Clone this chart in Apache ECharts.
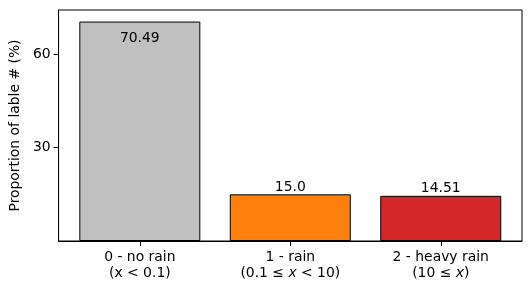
<!DOCTYPE html>
<html><head><meta charset="utf-8">
<script src="https://cdn.jsdelivr.net/npm/echarts@6/dist/echarts.min.js"></script>
<style>html,body{margin:0;padding:0;background:#fff}#c{width:531px;height:293px}</style>
</head><body><div id="c"></div>
<script>
const categories = ['0 - no rain', '1 - rain', '2 - heavy rain'];
const conditions = [['(x < 0.1)'], ['(0.1 ≤ ', 'x', ' < 10)'], ['(10 ≤ ', 'x', ')']];
const values = [70.49, 15.0, 14.51];
const valueLabels = ['70.49', '15.0', '14.51'];
const colors = ['#c0c0c0', '#ff7f0e', '#d62728'];
const yTicks = [30, 60];

const font = 'DejaVu Sans';
const fs = 13.9;
const chart = echarts.init(document.getElementById('c'), null, {renderer: 'canvas'});
chart.setOption({
  animation: false,
  grid: {left: 57, right: 9, top: 10, bottom: 52, show: true, borderColor: '#000', borderWidth: 1, backgroundColor: 'transparent'},
  xAxis: {
    type: 'value', min: -0.54, max: 2.54,
    splitLine: {show: false},
    axisLine: {show: true, onZero: false, lineStyle: {color: '#000', width: 1}},
    axisTick: {show: true, length: 5, lineStyle: {color: '#000'}, customValues: [0, 1, 2]},
    axisLabel: {
      customValues: [0, 1, 2], margin: 8, color: '#000', fontFamily: font, fontSize: fs, lineHeight: 16,
      formatter: function (v) {
        const i = Math.round(v);
        const c = conditions[i];
        let line2 = c.map((s) => (s === 'x' ? '{i|x}' : '{n|' + s + '}')).join('');
        return '{n|' + categories[i] + '}\n' + line2;
      },
      rich: {
        n: {fontFamily: font, fontSize: fs, color: '#000', lineHeight: 16},
        i: {fontFamily: font, fontSize: fs, fontStyle: 'italic', color: '#000', lineHeight: 16}
      }
    }
  },
  yAxis: {
    type: 'value', min: 0, max: 74.2,
    name: 'Proportion of lable # (%)', nameLocation: 'middle', nameGap: 33,
    nameTextStyle: {fontFamily: font, fontSize: fs, color: '#000'},
    splitLine: {show: false},
    axisLine: {show: true, onZero: false, lineStyle: {color: '#000', width: 1}},
    axisTick: {show: true, length: 5, lineStyle: {color: '#000'}, customValues: yTicks},
    axisLabel: {customValues: yTicks, margin: 8, color: '#000', fontFamily: font, fontSize: fs}
  },
  series: [{
    type: 'bar',
    barWidth: 121,
    data: values.map((v, i) => ({
      value: [i, v],
      itemStyle: {color: colors[i], borderColor: '#000', borderWidth: 1},
      label: i === 0 ? {show: true, position: 'insideTop', distance: 10} : {show: true, position: 'top', distance: 0}
    })),
    label: {
      show: true, color: '#000', fontFamily: font, fontSize: fs,
      formatter: p => valueLabels[p.dataIndex]
    }
  }]
});
</script></body></html>
